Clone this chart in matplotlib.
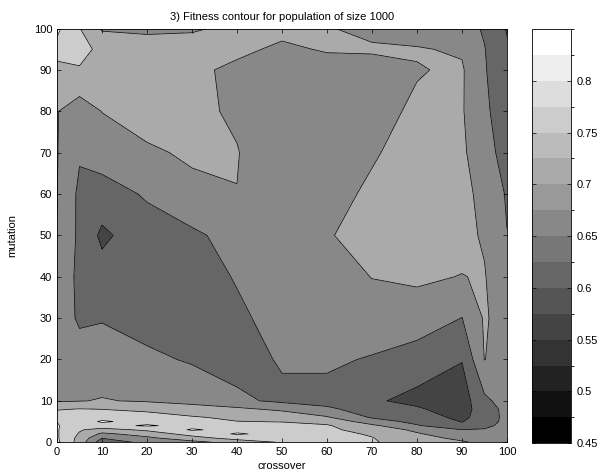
import numpy as np
import matplotlib
matplotlib.use('Agg')
import matplotlib.pyplot as plt
from matplotlib.colors import ListedColormap, BoundaryNorm
from matplotlib.cm import ScalarMappable

plt.rcParams['font.family'] = ['Liberation Sans', 'DejaVu Sans']
plt.rcParams['font.size'] = 8

# grid of the experiment (crossover / mutation in %)
crossover = [0, 5, 10, 20, 30, 40, 50, 60, 70, 80, 90, 95, 100]
mutation = [0, 1, 2, 3, 4, 5, 6, 8, 10, 20, 30, 40, 50, 60, 70, 80, 90, 95, 100]

# fitness, one row per mutation value (bottom to top)
fitness = [
    [0.810, 0.730, 0.620, 0.665, 0.685, 0.720, 0.755, 0.765, 0.755, 0.725, 0.705, 0.690, 0.680],
    [0.806, 0.735, 0.652, 0.690, 0.730, 0.770, 0.790, 0.765, 0.752, 0.715, 0.690, 0.685, 0.680],
    [0.805, 0.745, 0.690, 0.720, 0.770, 0.805, 0.785, 0.765, 0.745, 0.705, 0.670, 0.675, 0.680],
    [0.804, 0.755, 0.730, 0.760, 0.805, 0.785, 0.775, 0.760, 0.730, 0.690, 0.651, 0.655, 0.675],
    [0.804, 0.770, 0.785, 0.805, 0.785, 0.770, 0.765, 0.755, 0.710, 0.655, 0.610, 0.635, 0.670],
    [0.7995, 0.780, 0.805, 0.785, 0.770, 0.751, 0.748, 0.735, 0.675, 0.635, 0.598, 0.625, 0.665],
    [0.785, 0.775, 0.785, 0.770, 0.755, 0.740, 0.735, 0.705, 0.645, 0.620, 0.590, 0.620, 0.665],
    [0.745, 0.752, 0.749, 0.740, 0.720, 0.710, 0.690, 0.660, 0.625, 0.605, 0.580, 0.625, 0.665],
    [0.695, 0.698, 0.703, 0.695, 0.685, 0.660, 0.640, 0.630, 0.605, 0.590, 0.575, 0.640, 0.670],
    [0.665, 0.665, 0.665, 0.660, 0.645, 0.630, 0.655, 0.660, 0.645, 0.620, 0.602, 0.701, 0.680],
    [0.670, 0.645, 0.648, 0.630, 0.625, 0.640, 0.670, 0.680, 0.690, 0.685, 0.649, 0.705, 0.680],
    [0.680, 0.640, 0.620, 0.615, 0.625, 0.654, 0.675, 0.690, 0.7005, 0.705, 0.699, 0.703, 0.660],
    [0.699, 0.640, 0.590, 0.630, 0.640, 0.670, 0.680, 0.698, 0.710, 0.720, 0.712, 0.695, 0.651],
    [0.701, 0.640, 0.630, 0.655, 0.6915, 0.6995, 0.680, 0.690, 0.705, 0.715, 0.710, 0.690, 0.645],
    [0.702, 0.655, 0.672, 0.695, 0.705, 0.7015, 0.675, 0.672, 0.697, 0.712, 0.708, 0.670, 0.630],
    [0.702, 0.675, 0.701, 0.715, 0.708, 0.695, 0.675, 0.670, 0.690, 0.705, 0.704, 0.660, 0.620],
    [0.724, 0.745, 0.728, 0.722, 0.712, 0.688, 0.675, 0.675, 0.680, 0.698, 0.705, 0.655, 0.605],
    [0.785, 0.770, 0.735, 0.725, 0.720, 0.712, 0.690, 0.705, 0.706, 0.703, 0.695, 0.652, 0.605],
    [0.810, 0.752, 0.695, 0.690, 0.695, 0.710, 0.715, 0.703, 0.688, 0.680, 0.672, 0.6445, 0.597],
]

levels = [0.45, 0.50, 0.55, 0.60, 0.65, 0.70, 0.75, 0.80, 0.85]
cbar_ticks = [0.45, 0.5, 0.55, 0.6, 0.65, 0.7, 0.75, 0.8]

# matlab-like gray(16) colormap, each filled band takes the colour of its lower level
gray16 = [(i / 15.0,) * 3 for i in range(16)]
band_colors = [gray16[int(round((lv - 0.45) / 0.025))] for lv in levels[:-1]]

X, Y = np.meshgrid(crossover, mutation)
Z = np.array(fitness)

fig = plt.figure(figsize=(6.13, 4.76), dpi=100)
ax = fig.add_axes([0.093, 0.071, 0.734, 0.869])
ax.contourf(X, Y, Z, levels=levels, colors=band_colors)
ax.contour(X, Y, Z, levels=levels, colors='k', linewidths=0.5)

ax.set_xlim(0, 100)
ax.set_ylim(0, 100)
ax.set_xticks(range(0, 101, 10))
ax.set_yticks(range(0, 101, 10))
ax.tick_params(direction='in', top=True, right=True, length=3, width=0.5)
for s in ax.spines.values():
    s.set_linewidth(0.6)
ax.set_xlabel('crossover', labelpad=3)
ax.set_ylabel('mutation', labelpad=12)
ax.set_title('3) Fitness contour for population of size 1000', fontsize=8, pad=6)

cax = fig.add_axes([0.868, 0.069, 0.064, 0.870])
bounds = np.linspace(0.45, 0.85, 17)
sm = ScalarMappable(norm=BoundaryNorm(bounds, 16), cmap=ListedColormap(gray16))
cb = fig.colorbar(sm, cax=cax, ticks=cbar_ticks, drawedges=False)
cb.ax.set_yticklabels(['0.45', '0.5', '0.55', '0.6', '0.65', '0.7', '0.75', '0.8'])
cb.ax.tick_params(direction='in', left=True, right=True, length=3, width=0.5)
cb.outline.set_linewidth(0.6)

fig.savefig('out.png', dpi=100)
